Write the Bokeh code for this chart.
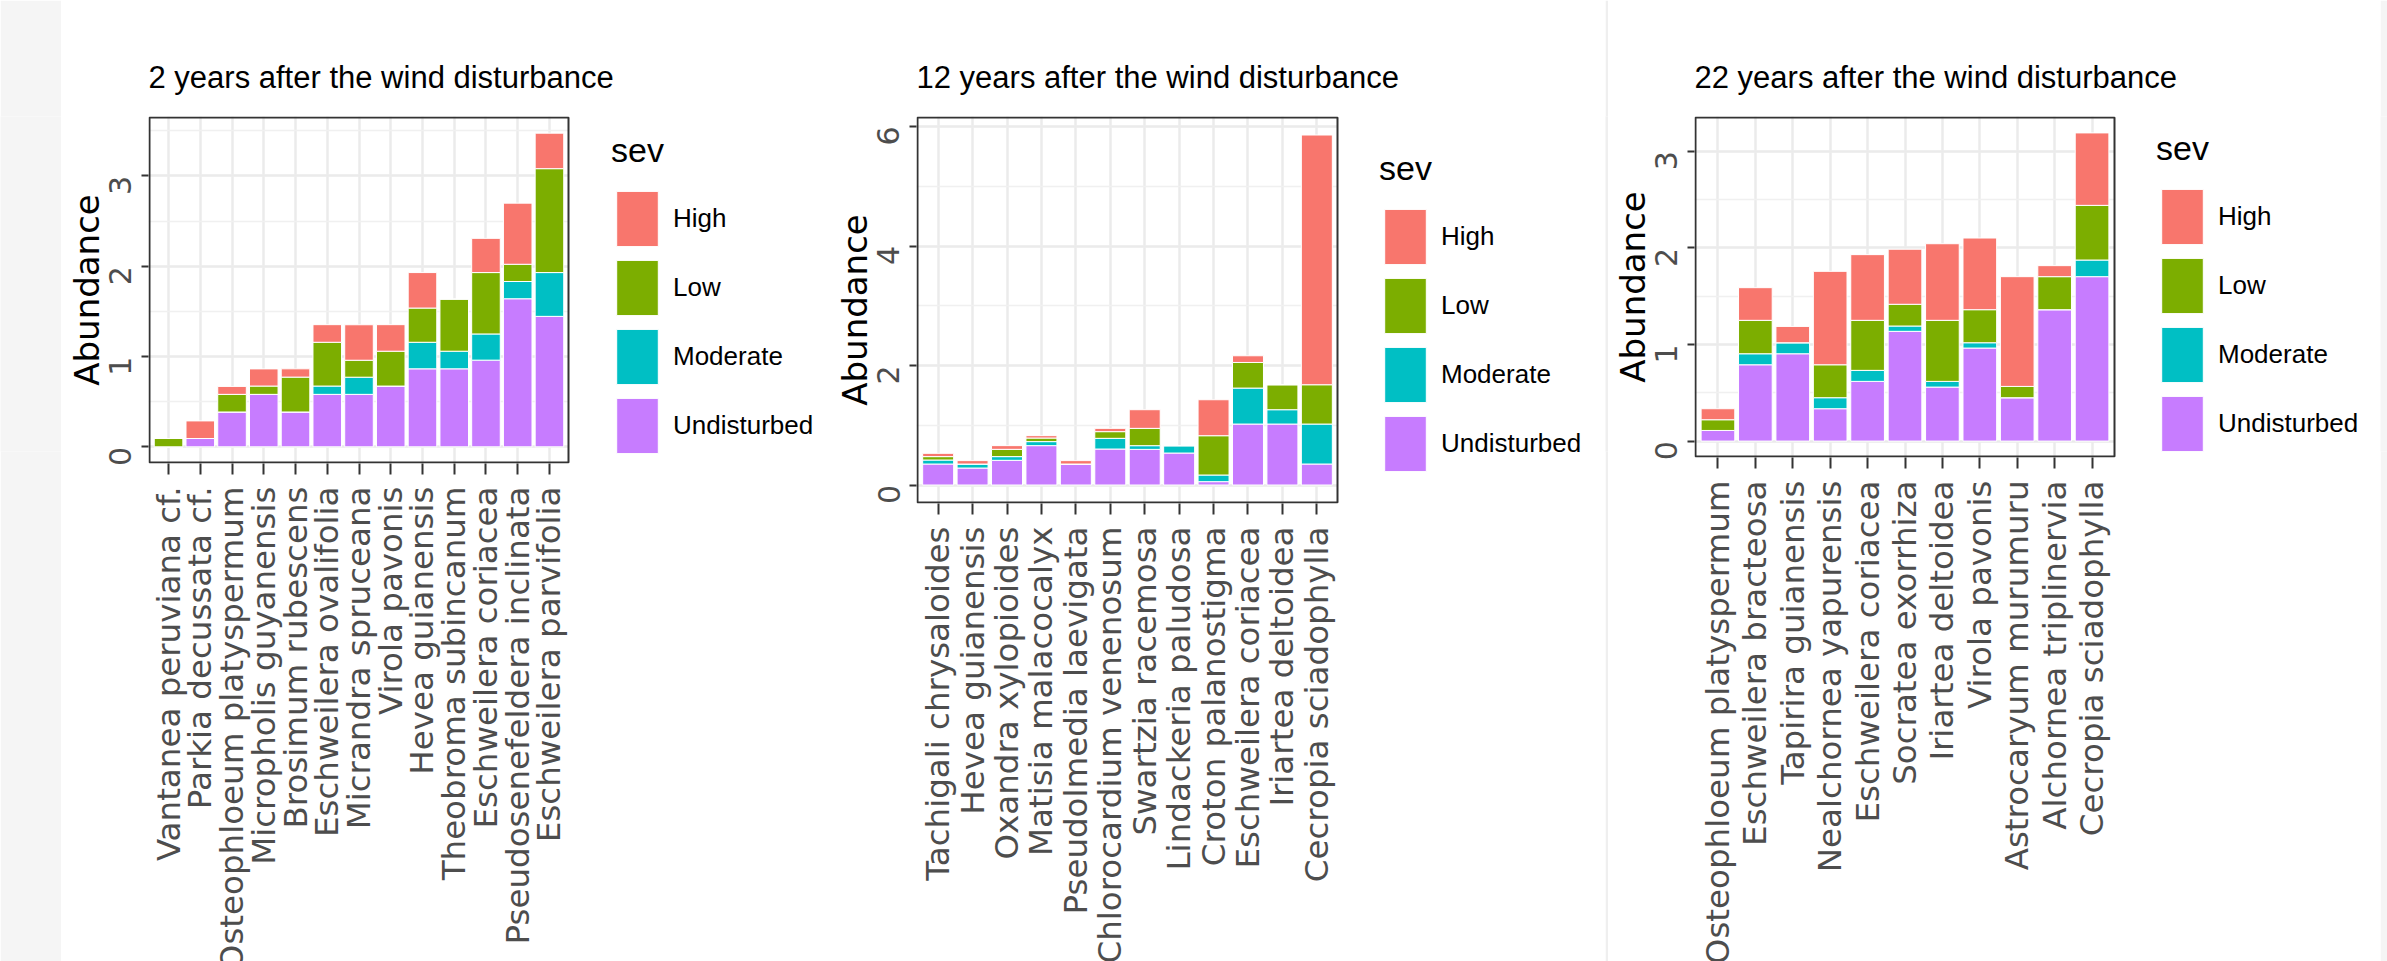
import math
from bokeh.plotting import figure
from bokeh.models import (ColumnDataSource, Range1d, FixedTicker, SingleIntervalTicker,
                          Legend, LegendItem, BoxAnnotation)
from bokeh.layouts import row
from bokeh.embed import file_html
from bokeh.resources import INLINE

# ---------------- data ----------------
sev_stack = ["Undisturbed", "Moderate", "Low", "High"]      # bottom -> top
legend_order = ["High", "Low", "Moderate", "Undisturbed"]
sev_colors = ["#C77CFF", "#00BFC4", "#7CAE00", "#F8766D"]

species_2 = ["Vantanea peruviana cf.", "Parkia decussata cf.", "Osteophloeum platyspermum",
             "Micropholis guyanensis", "Brosimum rubescens", "Eschweilera ovalifolia",
             "Micrandra spruceana", "Virola pavonis", "Hevea guianensis",
             "Theobroma subincanum", "Eschweilera coriacea", "Pseudosenefeldera inclinata",
             "Eschweilera parvifolia"]
undisturbed_2 = [0.0, 0.092, 0.386, 0.581, 0.386, 0.581, 0.581, 0.673, 0.864, 0.864, 0.960, 1.640, 1.445]
moderate_2 = [0.0, 0.0, 0.0, 0.0, 0.0, 0.092, 0.190, 0.0, 0.294, 0.195, 0.290, 0.191, 0.485]
low_2 = [0.092, 0.0, 0.195, 0.092, 0.386, 0.485, 0.188, 0.386, 0.379, 0.577, 0.680, 0.191, 1.151]
high_2 = [0.0, 0.195, 0.088, 0.190, 0.092, 0.195, 0.393, 0.294, 0.393, 0.0, 0.379, 0.677, 0.393]

species_12 = ["Tachigali chrysaloides", "Hevea guianensis", "Oxandra xylopioides",
              "Matisia malacocalyx", "Pseudolmedia laevigata", "Chlorocardium venenosum",
              "Swartzia racemosa", "Lindackeria paludosa", "Croton palanostigma",
              "Eschweilera coriacea", "Iriartea deltoidea", "Cecropia sciadophylla"]
undisturbed_12 = [0.351, 0.284, 0.413, 0.659, 0.351, 0.602, 0.596, 0.535, 0.056, 1.020, 1.020, 0.351]
moderate_12 = [0.067, 0.067, 0.062, 0.067, 0.0, 0.179, 0.062, 0.123, 0.111, 0.602, 0.240, 0.669]
low_12 = [0.057, 0.0, 0.122, 0.060, 0.0, 0.112, 0.290, 0.0, 0.658, 0.429, 0.418, 0.658]
high_12 = [0.055, 0.057, 0.062, 0.040, 0.057, 0.055, 0.312, 0.0, 0.602, 0.112, 0.0, 4.180]

species_22 = ["Osteophloeum platyspermum", "Eschweilera bracteosa", "Tapirira guianensis",
              "Nealchornea yapurensis", "Eschweilera coriacea", "Socratea exorrhiza",
              "Iriartea deltoidea", "Virola pavonis", "Astrocaryum murumuru",
              "Alchornea triplinervia", "Cecropia sciadophylla"]
undisturbed_22 = [0.110, 0.790, 0.904, 0.335, 0.618, 1.136, 0.559, 0.963, 0.449, 1.360, 1.702]
moderate_22 = [0.0, 0.114, 0.114, 0.114, 0.114, 0.055, 0.059, 0.055, 0.0, 0.0, 0.172]
low_22 = [0.111, 0.346, 0.0, 0.341, 0.518, 0.225, 0.632, 0.342, 0.117, 0.342, 0.566]
high_22 = [0.114, 0.338, 0.169, 0.967, 0.680, 0.570, 0.793, 0.742, 1.136, 0.114, 0.750]

titles = ["2 years after the wind disturbance",
          "12 years after the wind disturbance",
          "22 years after the wind disturbance"]

HFONT = "Liberation Sans"
SANS = "DejaVu Sans"
TOTAL_H = 961


def make_panel(title, species, und, mod, low, high, canvas_w, left, top,
               panel_w, panel_h, y_step, legend_xy):
    """left/top: canvas offsets of the plotting panel; the bokeh frame is 1px larger
    on left/top/bottom and extends to the canvas right edge to host the legend."""
    n = len(species)
    xs = list(range(1, n + 1))
    src = ColumnDataSource(dict(x=xs, Undisturbed=und, Moderate=mod, Low=low, High=high))
    totals = [a + b + c + d for a, b, c, d in zip(und, mod, low, high)]
    ymax = max(totals)
    y0, y1 = -0.05 * ymax, 1.05 * ymax
    x0, x1 = 0.4, n + 0.6

    ux = panel_w / (x1 - x0)          # px per category
    uy = panel_h / (y1 - y0)          # px per unit
    frame_left = left - 1
    frame_top = top - 1
    frame_w = canvas_w - frame_left
    frame_h = panel_h + 2
    xr = Range1d(x0 - 1 / ux, x0 - 1 / ux + frame_w / ux)
    yr = Range1d(y0 - 1 / uy, y1 + 1 / uy)

    p = figure(frame_width=frame_w, frame_height=frame_h,
               output_backend="svg", toolbar_location=None,
               x_range=xr, y_range=yr,
               min_border_left=frame_left, min_border_top=frame_top, min_border_right=0,
               min_border_bottom=TOTAL_H - frame_top - frame_h,
               background_fill_color="white", border_fill_color="white")
    p.outline_line_color = None
    p.title.text = title
    p.title.text_font = HFONT
    p.title.text_font_size = "31px"
    p.title.text_font_style = "normal"
    p.title.text_color = "black"
    p.title.standoff = 43

    rs = p.vbar_stack(sev_stack, x="x", width=0.9, source=src, color=sev_colors,
                      line_color="white", line_width=1)
    by_name = dict(zip(sev_stack, rs))

    # x axis
    p.xaxis.ticker = FixedTicker(ticks=xs)
    p.xaxis.major_label_overrides = {i + 1: s for i, s in enumerate(species)}
    p.xaxis.major_label_orientation = math.pi / 2
    p.xaxis.major_label_text_font = SANS
    p.xaxis.major_label_text_font_size = "32.5px"
    p.xaxis.major_label_text_color = "#4D4D4D"
    p.xaxis.major_label_standoff = 12
    p.xaxis.major_tick_out = 11
    p.xaxis.major_tick_in = 0
    p.xaxis.major_tick_line_width = 2
    p.xaxis.major_tick_line_color = "#333333"
    p.xaxis.minor_tick_line_color = None
    p.xaxis.axis_line_color = None

    # y axis
    yt = SingleIntervalTicker(interval=y_step, num_minor_ticks=2)
    p.yaxis.ticker = yt
    p.yaxis.major_label_orientation = math.pi / 2
    p.yaxis.major_label_text_font = SANS
    p.yaxis.major_label_text_font_size = "30px"
    p.yaxis.major_label_text_color = "#4D4D4D"
    p.yaxis.major_label_standoff = 21
    p.yaxis.major_tick_out = 7
    p.yaxis.major_tick_in = 0
    p.yaxis.major_tick_line_width = 2
    p.yaxis.major_tick_line_color = "#333333"
    p.yaxis.minor_tick_line_color = None
    p.yaxis.axis_line_color = None
    p.yaxis.axis_label = "Abundance"
    p.yaxis.axis_label_text_font = SANS
    p.yaxis.axis_label_text_font_size = "34px"
    p.yaxis.axis_label_text_font_style = "normal"
    p.yaxis.axis_label_text_color = "black"
    p.yaxis.axis_label_standoff = -11

    # grid
    p.xgrid.ticker = FixedTicker(ticks=xs)
    p.xgrid.grid_line_color = "#EBEBEB"
    p.xgrid.grid_line_width = 2.5
    p.ygrid.grid_line_color = "#EBEBEB"
    p.ygrid.grid_line_width = 2.7
    p.ygrid.minor_grid_line_color = "#F0F0F0"
    p.ygrid.minor_grid_line_width = 1.6

    # white area right of the panel (legend zone) hides the grid there
    p.add_layout(BoxAnnotation(left=x1, right=xr.end, bottom=yr.start, top=yr.end,
                               fill_color="white", fill_alpha=1.0, line_alpha=0,
                               level="underlay"), "center")
    # panel border
    p.add_layout(BoxAnnotation(left=x0, right=x1, bottom=y0, top=y1,
                               fill_alpha=0, line_color="#333333", line_alpha=1.0,
                               line_width=2), "center")

    items = [LegendItem(label=s, renderers=[by_name[s]]) for s in legend_order]
    leg = Legend(items=items, location=legend_xy, title="sev",
                 title_text_font=HFONT, title_text_font_size="34px",
                 title_text_font_style="normal", title_text_color="black",
                 title_standoff=14,
                 label_text_font=HFONT, label_text_font_size="26px",
                 label_text_color="black", label_standoff=10,
                 glyph_width=52, glyph_height=69, spacing=0, padding=0, margin=0,
                 border_line_color=None, background_fill_alpha=0)
    p.add_layout(leg, "center")
    return p


def make_band(width, color):
    """Plain coloured canvas used for the page's grey side strips and divider."""
    b = figure(width=width, height=TOTAL_H, min_border=0, title=None,
               x_range=Range1d(0, 1), y_range=Range1d(0, 1),
               x_axis_type=None, y_axis_type=None, toolbar_location=None,
               output_backend="svg", outline_line_color=None,
               background_fill_color=color, border_fill_color=color)
    b.grid.visible = False
    return b


p1 = make_panel(titles[0], species_2, undisturbed_2, moderate_2, low_2, high_2,
                canvas_w=769, left=88, top=113, panel_w=419, panel_h=345, y_step=1,
                legend_xy=(463, 3))
p2 = make_panel(titles[1], species_12, undisturbed_12, moderate_12, low_12, high_12,
                canvas_w=775, left=87, top=115, panel_w=420, panel_h=385, y_step=2,
                legend_xy=(463, 25))
p3 = make_panel(titles[2], species_22, undisturbed_22, moderate_22, low_22, high_22,
                canvas_w=772, left=87, top=117, panel_w=419, panel_h=339, y_step=1,
                legend_xy=(462, -1))

left_strip = make_band(61, "#F5F5F5")
divider = make_band(3, "#EFEFEF")
right_strip = make_band(7, "#F5F5F5")

layout = row(left_strip, p1, p2, divider, p3, right_strip)

open("out.html", "w").write(file_html(layout, INLINE))
